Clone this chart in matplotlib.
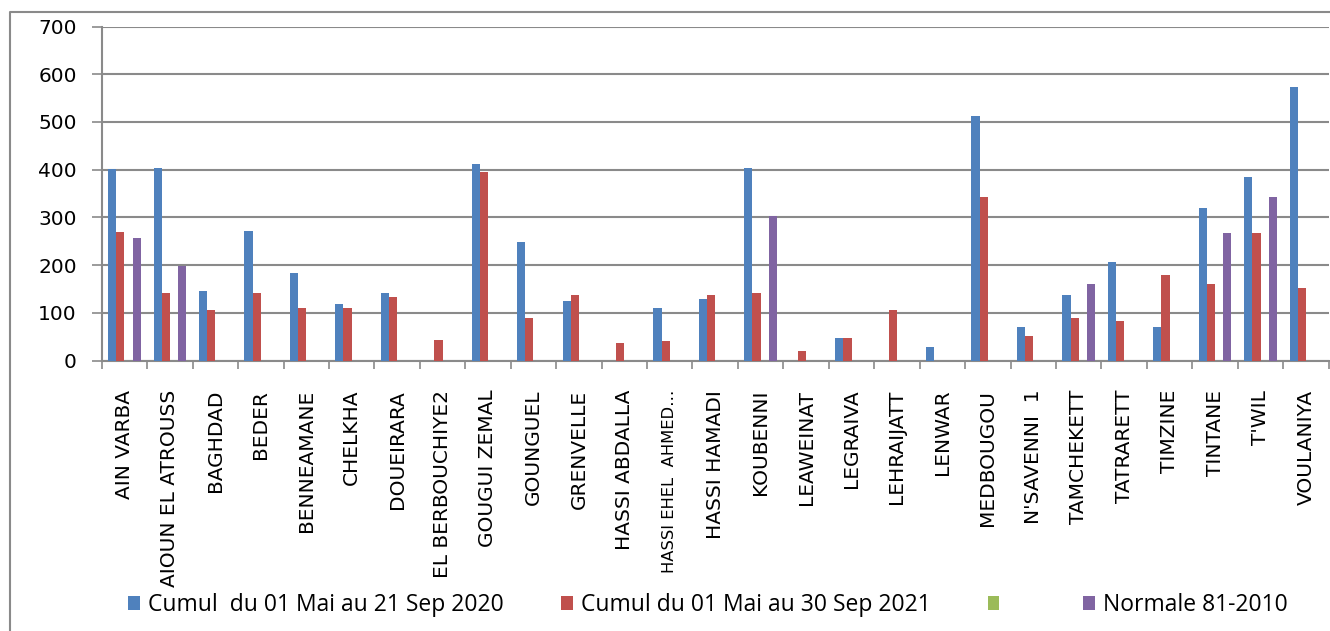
import matplotlib
matplotlib.use("Agg")
import matplotlib.pyplot as plt
import numpy as np
from matplotlib.lines import Line2D

plt.rcParams["font.family"] = ["DejaVu Sans"]

# Stations
stations = ["AIN VARBA", "AIOUN EL ATROUSS", "BAGHDAD", "BEDER", "BENNEAMANE",
            "CHELKHA", "DOUEIRARA", "EL BERBOUCHIYE2", "GOUGUI ZEMAL", "GOUNGUEL",
            "GRENVELLE", "HASSI ABDALLA", "HASSI EHEL  AHMED…", "HASSI HAMADI",
            "KOUBENNI", "LEAWEINAT", "LEGRAIVA", "LEHRAIJATT", "LENWAR",
            "MEDBOUGOU", "N'SAVENNI  1", "TAMCHEKETT", "TATRARETT", "TIMZINE",
            "TINTANE", "T'WIL", "VOULANIYA"]

# Cumul du 01 Mai au 21 Sep 2020
cumul_2020 = [401, 404, 145, 272, 183, 118, 141, 0, 412, 249, 125, 0, 110, 129,
              404, 0, 48, 0, 28, 512, 71, 137, 206, 71, 319, 384, 574]
# Cumul du 01 Mai au 30 Sep 2021
cumul_2021 = [269, 141, 106, 141, 110, 110, 133, 44, 396, 90, 137, 36, 41, 137,
              141, 20, 48, 106, 0, 342, 52, 90, 83, 179, 160, 268, 152]
# serie vide (sans nom)
vide = [0] * len(stations)
# Normale 81-2010
normale = [257, 199, 0, 0, 0, 0, 0, 0, 0, 0, 0, 0, 0, 0,
           303, 0, 0, 0, 0, 0, 0, 160, 0, 0, 268, 342, 0]

labels = ["Cumul  du 01 Mai au 21 Sep 2020", "Cumul du 01 Mai au 30 Sep 2021",
          "   ", "Normale 81-2010"]
colors = ["#4F81BD", "#C0504D", "#9BBB59", "#8064A2"]

fig = plt.figure(figsize=(13.3, 6.31), dpi=100)
ax = fig.add_axes([0.0765, 0.4284, 0.9225, 0.5296])

x = np.arange(len(stations)) + 0.5
w = 0.18
series = [cumul_2020, cumul_2021, vide, normale]
offsets = [-0.27, -0.09, 0.09, 0.27]
for s, off, c, lab in zip(series, offsets, colors, labels):
    ax.bar(x + off, s, width=w, color=c, label=lab, zorder=3)

grid_c = "#8a8a8a"
ax.set_xlim(0, len(stations))
ax.set_ylim(0, 700)
ax.set_yticks(range(0, 701, 100))
ax.yaxis.grid(True, color=grid_c, linewidth=1.5, zorder=0)
ax.tick_params(axis="y", length=7, width=1.2, color=grid_c, pad=11, labelsize=14.5)

ax.set_xticks(np.arange(0, len(stations) + 1), labels=[])
ax.set_xticks(x, labels=stations, minor=True, rotation=90)
ax.tick_params(axis="x", which="major", length=6, width=1.2, color=grid_c, direction="out")
ax.tick_params(axis="x", which="minor", length=0, pad=21, labelsize=14.5)
# le libelle tronque est plus serre dans l'original
for t in ax.get_xticklabels(minor=True):
    if t.get_text().startswith("HASSI EHEL"):
        t.set_fontsize(11.8)

for sp in ["top", "right"]:
    ax.spines[sp].set_visible(False)
for sp in ["left", "bottom"]:
    ax.spines[sp].set_color(grid_c)
    ax.spines[sp].set_linewidth(1.5)

# cadre du graphique
fig.add_artist(Line2D([9.5 / 1330, 9.5 / 1330, 1.0], [0.0, 1 - 11.7 / 631, 1 - 11.7 / 631],
                      transform=fig.transFigure, color=grid_c, linewidth=1.5))

fig.legend(loc="center", bbox_to_anchor=(0.532, 0.041), ncol=4, frameon=False,
           prop={"family": "Open Sans", "size": 16.5}, handlelength=0.52, handleheight=0.52,
           handletextpad=0.35, columnspacing=2.5)

fig.savefig("out.png", dpi=100)
